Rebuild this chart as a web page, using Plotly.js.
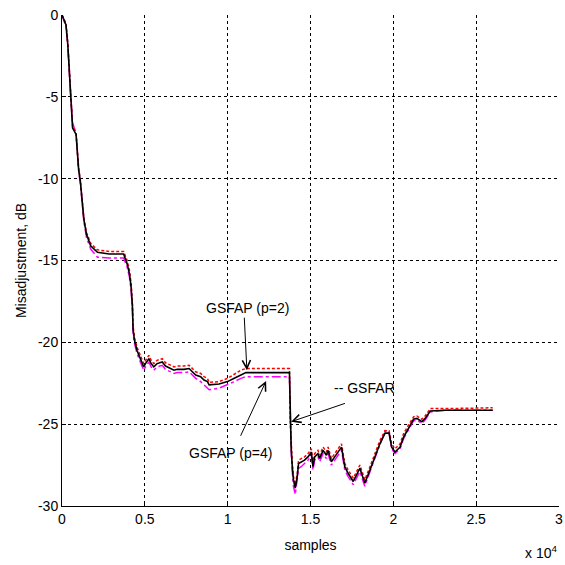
<!DOCTYPE html>
<html>
<head>
<meta charset="utf-8">
<script src="https://cdn.plot.ly/plotly-3.0.1.min.js"></script>
<style>html,body{margin:0;padding:0;background:#fff;}#chart{width:565px;height:565px;}</style>
</head>
<body>
<div id="chart"></div>
<script>
// samples in units of 1e4
const samplesX = [0,0.024,0.035,0.044,0.054,0.064,0.085,0.10,0.111,0.132,0.148,0.173,0.214,0.285,0.372,0.393,0.407,0.417,0.425,0.429,0.437,0.453,0.477,0.493,0.504,0.524,0.538,0.554,0.574,0.605,0.625,0.655,0.676,0.696,0.736,0.767,0.807,0.837,0.857,0.878,0.888,0.948,0.999,1.04,1.08,1.11,1.373,1.377,1.383,1.39,1.397,1.408,1.42,1.428,1.444,1.464,1.485,1.505,1.515,1.525,1.545,1.555,1.576,1.596,1.606,1.626,1.646,1.667,1.687,1.707,1.727,1.758,1.778,1.798,1.818,1.828,1.859,1.889,1.919,1.95,1.974,1.99,2.01,2.041,2.061,2.092,2.122,2.142,2.172,2.192,2.223,2.314,2.6];

// GSFAP (p=2) - black solid
const gsfapP2 = [0,-0.6,-1.8,-3.6,-5.1,-6.9,-7.3,-9.4,-10.2,-12.5,-13.4,-14.1,-14.5,-14.6,-14.6,-15.2,-15.8,-16.6,-17.8,-19.2,-19.85,-20.5,-21.1,-21.5,-21.3,-21.0,-21.3,-21.5,-21.3,-21.2,-21.45,-21.6,-21.7,-21.65,-21.65,-21.6,-22.0,-22.1,-22.3,-22.4,-22.6,-22.55,-22.4,-22.2,-22.0,-21.85,-21.85,-25.0,-26.4,-27.6,-28.4,-28.9,-28.2,-27.4,-27.3,-27.2,-27.0,-26.7,-27.6,-27.0,-26.8,-27.1,-26.6,-26.9,-26.6,-27.3,-27.0,-26.7,-26.4,-27.6,-28.0,-28.5,-28.1,-27.7,-28.3,-28.6,-27.8,-27.0,-26.2,-25.55,-25.55,-26.4,-26.7,-26.4,-25.8,-25.25,-24.7,-24.65,-24.85,-24.65,-24.2,-24.15,-24.15];

// GSFAR - red dashed
const gsfar = [0,-0.5,-1.7,-3.5,-5.0,-6.8,-7.2,-9.3,-10.1,-12.4,-13.3,-13.95,-14.35,-14.45,-14.45,-15.0,-15.6,-16.4,-17.6,-19.0,-19.7,-20.3,-20.9,-21.3,-21.1,-20.8,-21.1,-21.3,-21.1,-21.0,-21.25,-21.4,-21.5,-21.45,-21.45,-21.4,-21.8,-21.9,-22.1,-22.2,-22.45,-22.4,-22.2,-21.95,-21.7,-21.6,-21.6,-24.6,-26.2,-27.4,-28.2,-28.7,-28.0,-27.2,-27.1,-27.0,-26.8,-26.5,-27.4,-26.8,-26.6,-26.9,-26.4,-26.7,-26.4,-27.1,-26.8,-26.5,-26.2,-27.4,-27.8,-28.3,-27.9,-27.5,-28.1,-28.4,-27.6,-26.8,-26.0,-25.4,-25.4,-26.2,-26.5,-26.2,-25.6,-25.05,-24.55,-24.5,-24.7,-24.5,-24.05,-24.05,-24.0];

// GSFAP (p=4) - magenta dash-dot
const gsfapP4 = [0,-0.7,-1.9,-3.7,-5.2,-6.6,-7.2,-9.5,-10.3,-12.6,-13.6,-14.3,-14.8,-14.85,-14.85,-15.4,-16.0,-16.8,-18.0,-19.4,-20.05,-20.7,-21.3,-21.7,-21.5,-21.2,-21.5,-21.7,-21.5,-21.4,-21.65,-21.8,-21.9,-21.85,-21.85,-21.8,-22.2,-22.4,-22.6,-22.8,-22.9,-22.8,-22.6,-22.4,-22.2,-22.1,-22.1,-25.2,-26.6,-27.9,-28.8,-29.3,-28.5,-27.7,-27.6,-27.4,-27.2,-26.9,-27.8,-27.2,-27.0,-27.3,-26.8,-27.1,-26.8,-27.5,-27.2,-26.9,-26.6,-27.8,-28.2,-28.7,-28.3,-27.9,-28.5,-28.8,-27.9,-27.1,-26.3,-25.4,-25.45,-26.5,-26.8,-26.5,-25.9,-25.35,-24.8,-24.75,-24.95,-24.75,-24.25,-24.15,-24.15];

const yTicks = [0,-5,-10,-15,-20,-25,-30];
const yTickText = ['0','-5','-10','-15','-20','-25','-30'];
const xTicks = [0,0.5,1,1.5,2,2.5,3];
const xTickText = ['0','0.5','1','1.5','2','2.5','3'];

const font = 'Liberation Sans Narrow, Liberation Sans, Arial, sans-serif';

const traces = [
  {x: samplesX, y: gsfapP4, mode:'lines', line:{color:'#ff00ff', width:1.5, dash:'dashdot'}, name:'GSFAP (p=4)'},
  {x: samplesX, y: gsfar, mode:'lines', line:{color:'#ff0000', width:1.5, dash:'3px,2px'}, name:'GSFAR'},
  {x: samplesX, y: gsfapP2, mode:'lines', line:{color:'#000000', width:1.6}, name:'GSFAP (p=2)'}
];

const arrowCommon = {showarrow:true, arrowhead:5, arrowsize:1.6, arrowwidth:1, arrowcolor:'#000', axref:'x', ayref:'y', text:''};

const layout = {
  width:565, height:565,
  margin:{l:62, r:6, t:15, b:59},
  paper_bgcolor:'#fff', plot_bgcolor:'#fff',
  showlegend:false,
  font:{family:font, size:14, color:'#000'},
  xaxis:{range:[0,3], tickvals:xTicks, ticktext:xTickText, showgrid:true, gridcolor:'#000', griddash:'3px,3px', gridwidth:1,
    zeroline:false, showline:true, linecolor:'#000', linewidth:1, ticks:'inside', ticklen:4, tickcolor:'#000',
    title:{text:'samples', font:{family:font, size:14}, standoff:14}, tickfont:{family:font, size:14}},
  yaxis:{range:[-30,0], tickvals:yTicks, ticktext:yTickText, showgrid:true, gridcolor:'#000', griddash:'3px,3px', gridwidth:1,
    zeroline:false, showline:true, linecolor:'#000', linewidth:1, ticks:'inside', ticklen:4, tickcolor:'#000',
    title:{text:'Misadjustment, dB', font:{family:font, size:14}, standoff:8}, tickfont:{family:font, size:14}},
  annotations:[
    Object.assign({}, arrowCommon, {x:1.116, y:-21.7, ax:1.10, ay:-18.4}),
    Object.assign({}, arrowCommon, {x:1.232, y:-22.36, ax:1.074, ay:-25.8}),
    Object.assign({}, arrowCommon, {x:1.383, y:-24.85, ax:1.717, ay:-23.7}),
    {x:1.12, y:-17.9, xref:'x', yref:'y', text:'GSFAP (p=2)', showarrow:false, font:{family:font, size:14}},
    {x:1.02, y:-26.75, xref:'x', yref:'y', text:'GSFAP (p=4)', showarrow:false, font:{family:font, size:14}},
    {x:1.825, y:-22.8, xref:'x', yref:'y', text:'-- GSFAR', showarrow:false, font:{family:font, size:14}},
    {x:1.0, y:-0.116, xref:'paper', yref:'paper', xanchor:'right', yanchor:'bottom', text:'x 10<sup>4</sup>', showarrow:false, font:{family:font, size:14}}
  ]
};

Plotly.newPlot('chart', traces, layout, {staticPlot:true, displayModeBar:false});
</script>
</body>
</html>
